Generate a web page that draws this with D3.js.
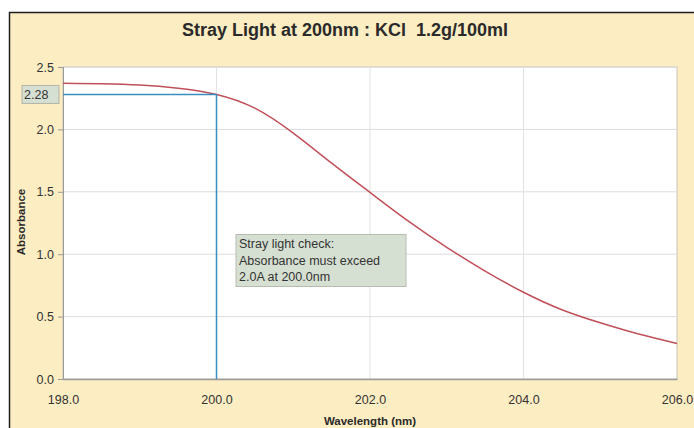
<!DOCTYPE html>
<html>
<head>
<meta charset="utf-8">
<script src="https://cdn.jsdelivr.net/npm/d3@7"></script>
<style>
  body { margin: 0; background: #ffffff; }
  text { font-family: "Liberation Sans", Arial, sans-serif; white-space: pre; }
</style>
</head>
<body>
<script>
// stray light chart
var w = 694;
var h = 428;

// data
var wavelength = [198, 198.5, 199, 199.5, 200, 200.5, 201, 201.5, 202, 202.5, 203, 203.5, 204, 204.5, 205, 205.5, 206];
var absorbance = [2.37, 2.365, 2.355, 2.33, 2.28, 2.17, 1.97, 1.73, 1.495, 1.265, 1.055, 0.865, 0.695, 0.555, 0.45, 0.36, 0.285];
var xTicks = [198, 200, 202, 204, 206];
var yTicks = [0, 0.5, 1.0, 1.5, 2.0, 2.5];
var markX = 200.0;
var markY = 2.28;
var noteLines = ["Stray light check:", "Absorbance must exceed", "2.0A at 200.0nm"];

var m = {left: 63, right: 677, top: 67, bottom: 379};

var svg = d3.select("body").append("svg")
  .attr("width", w)
  .attr("height", h);

// yellow background + frame
svg.append("rect")
  .attr("x", 9.5).attr("y", 12.5)
  .attr("width", w + 10).attr("height", h + 10)
  .attr("fill", "#fcedc2")
  .attr("stroke", "#1e1e1e")
  .attr("stroke-width", 1.5);

var x = d3.scaleLinear().domain([198, 206]).range([m.left, m.right]);
var y = d3.scaleLinear().domain([0, 2.5]).range([m.bottom, m.top]);

// plot area
svg.append("rect")
  .attr("x", m.left).attr("y", m.top)
  .attr("width", m.right - m.left).attr("height", m.bottom - m.top)
  .attr("fill", "#ffffff")
  .attr("stroke", "#c8c4b4");

// grid
svg.append("g").selectAll("line.h")
  .data(yTicks.slice(1))
  .enter().append("line")
  .attr("x1", m.left).attr("x2", m.right)
  .attr("y1", function(d) {return y(d);})
  .attr("y2", function(d) {return y(d);})
  .attr("stroke", "#dcdcdc");

svg.append("g").selectAll("line.v")
  .data(xTicks.slice(1, -1))
  .enter().append("line")
  .attr("y1", m.top).attr("y2", m.bottom)
  .attr("x1", function(d) {return x(d);})
  .attr("x2", function(d) {return x(d);})
  .attr("stroke", "#e2e2e2");

// axes
var yAxis = d3.axisLeft(y).tickValues(yTicks).tickFormat(d3.format(".1f")).tickSize(5).tickPadding(4);
var gy = svg.append("g").attr("transform", "translate(" + m.left + ",0)").call(yAxis);
gy.select(".domain").attr("stroke", "#9a9a9a");
gy.selectAll(".tick line").attr("stroke", "#9a9a9a");
gy.selectAll("text").attr("font-size", 12.5).attr("fill", "#333333")
  .attr("font-family", "Liberation Sans, Arial, sans-serif");

var xAxis = d3.axisBottom(x).tickValues(xTicks).tickFormat(d3.format(".1f")).tickSize(0).tickPadding(16);
var gx = svg.append("g").attr("transform", "translate(0," + m.bottom + ")").call(xAxis);
gx.select(".domain").attr("stroke", "#9a9a9a").attr("stroke-width", 1.5);
gx.selectAll("text").attr("font-size", 12.5).attr("fill", "#333333")
  .attr("font-family", "Liberation Sans, Arial, sans-serif");

// curve
var pts = wavelength.map(function(d, i) {return [d, absorbance[i]];});
var line = d3.line()
  .x(function(d) {return x(d[0]);})
  .y(function(d) {return y(d[1]);})
  .curve(d3.curveNatural);

svg.append("path")
  .datum(pts)
  .attr("d", line)
  .attr("fill", "none")
  .attr("stroke", "#c0505a")
  .attr("stroke-width", 1.5);

// marker lines at 200nm
svg.append("line")
  .attr("x1", x(markX)).attr("x2", x(markX))
  .attr("y1", y(markY)).attr("y2", m.bottom)
  .attr("stroke", "#3a8fbf").attr("stroke-width", 1.5);
svg.append("line")
  .attr("x1", m.left).attr("x2", x(markX))
  .attr("y1", y(markY)).attr("y2", y(markY))
  .attr("stroke", "#3a8fbf").attr("stroke-width", 1.5);

// 2.28 label
svg.append("rect")
  .attr("x", 22).attr("y", y(markY) - 9)
  .attr("width", 37).attr("height", 18)
  .attr("fill", "#d6e0d2").attr("stroke", "#b4b4a8");
svg.append("text")
  .attr("x", 24).attr("y", y(markY) + 4.5)
  .attr("font-size", 12.5).attr("fill", "#333333")
  .text(d3.format(".2f")(markY));

// note box
svg.append("rect")
  .attr("x", 236).attr("y", 234.5)
  .attr("width", 170).attr("height", 52)
  .attr("fill", "#d6e0d2").attr("stroke", "#b8bcb0");
svg.append("g").selectAll("text")
  .data(noteLines)
  .enter().append("text")
  .attr("x", 239)
  .attr("y", function(d, i) {return 248 + i * 16.5;})
  .attr("font-size", 12.5)
  .attr("fill", "#333333")
  .text(function(d) {return d;});

// titles
svg.append("text")
  .attr("x", 345).attr("y", 36)
  .attr("text-anchor", "middle")
  .attr("font-size", 18).attr("font-weight", "bold")
  .attr("fill", "#2a2a2a")
  .text("Stray Light at 200nm : KCl  1.2g/100ml");

svg.append("text")
  .attr("x", 370).attr("y", 425)
  .attr("text-anchor", "middle")
  .attr("font-size", 11.5).attr("font-weight", "bold")
  .attr("fill", "#2a2a2a")
  .text("Wavelength (nm)");

svg.append("text")
  .attr("transform", "translate(25,222) rotate(-90)")
  .attr("text-anchor", "middle")
  .attr("font-size", 11.5).attr("font-weight", "bold")
  .attr("fill", "#2a2a2a")
  .text("Absorbance");
</script>
</body>
</html>
